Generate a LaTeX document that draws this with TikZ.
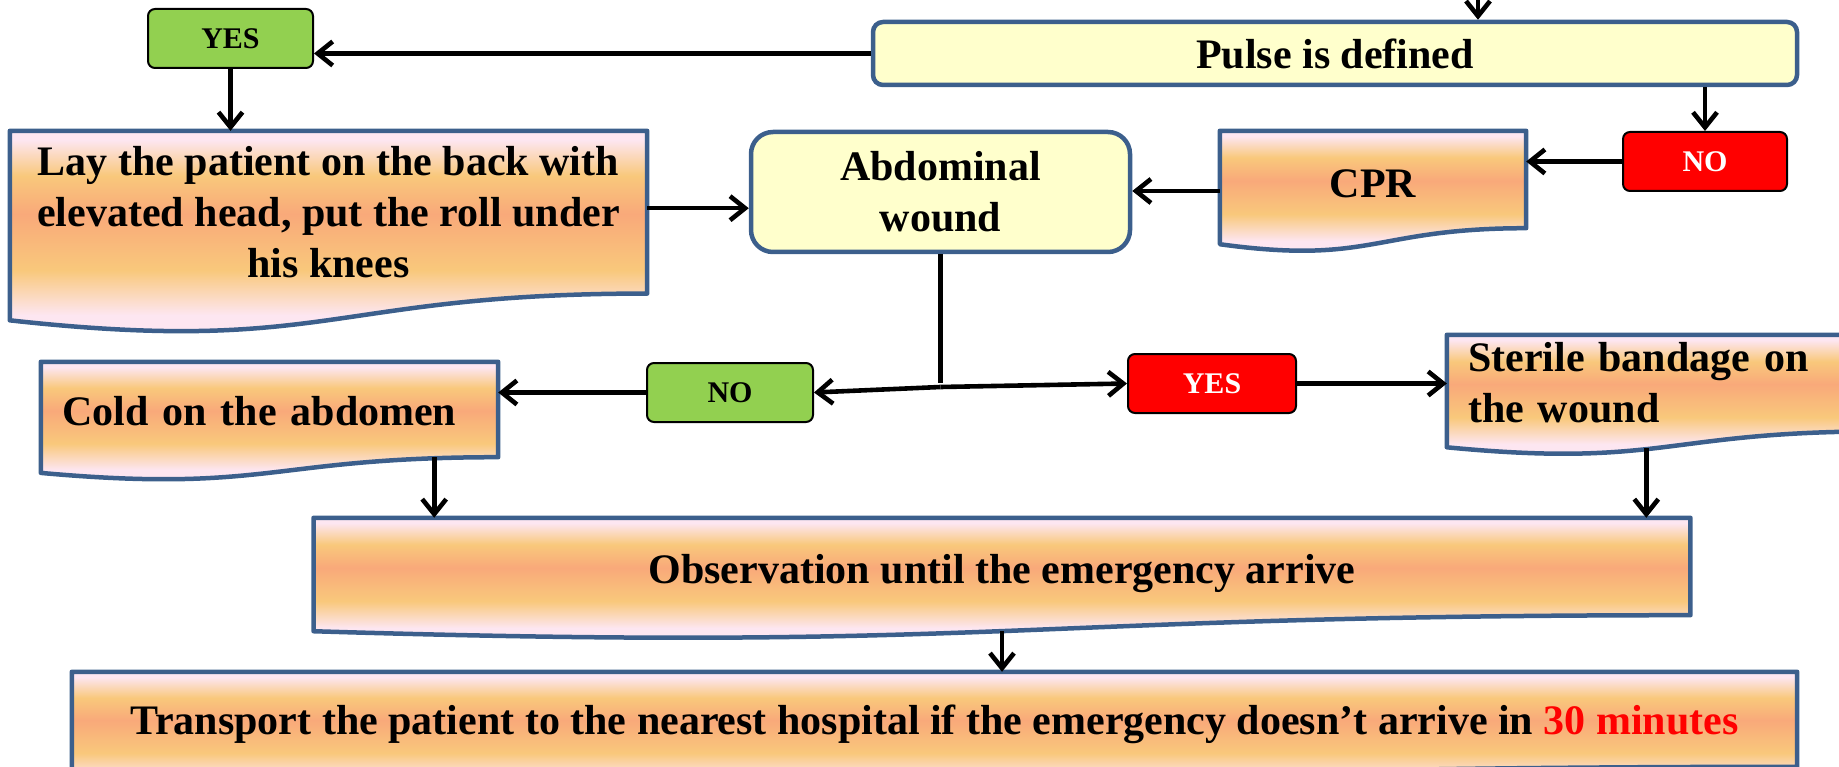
\documentclass[tikz,border=0pt]{standalone}
\usepackage{fontspec}
\setmainfont{Liberation Serif}
\usetikzlibrary{arrows.meta,calc,backgrounds}
\definecolor{bord}{HTML}{3C5F8C}
\definecolor{pyel}{HTML}{FFFFCC}
\definecolor{grn}{HTML}{92D050}
\definecolor{dpink}{HTML}{FDE6F1}
\definecolor{dyel}{HTML}{F9C87B}
\definecolor{dsal}{HTML}{F9A97A}
\pgfdeclareverticalshading{docgrad}{100bp}{color(0bp)=(dpink); color(25bp)=(dpink); color(34bp)=(dpink); color(44bp)=(dyel); color(56.5bp)=(dsal); color(65bp)=(dyel); color(73bp)=(dpink); color(100bp)=(dpink)}
\newcommand\docpath[1]{(#1.north west) -- (#1.north east) -- (#1.south east) .. controls (#1.south) and ($(#1.north)!1.381!(#1.south)$) .. ($(#1.north west)!1.1646!(#1.south west)$) -- cycle}
\newcommand\txtdown[2]{\raisebox{-#1}[\height][\depth]{#2}}
\begin{document}
\begin{tikzpicture}[x=1pt,y=-1pt,
  txt/.style={font={\fontsize{42}{51}\selectfont\bfseries}, align=center, inner sep=0pt},
  ybox/.style={txt, rectangle, rounded corners=10pt, draw=bord, fill=pyel, line width=4.5pt},
  doc/.style={txt, rectangle},
  tag/.style={font={\fontsize{30}{36}\selectfont\bfseries}, rectangle, rounded corners=7pt, draw=black, line width=2pt, inner sep=0pt, minimum height=59pt},
  docfill/.style={shading=docgrad, draw=bord, line width=4.5pt, line join=round},
  arr/.style={-{Straight Barb[length=15pt,width=24pt]}, line width=4.6pt},
  plain/.style={line width=4.6pt}]
\clip (0,0) rectangle (1839,767);
% rounded yellow boxes
\node[ybox, minimum width=924pt, minimum height=63pt] (Pulse) at (1335,53.5) {Pulse is defined};
\node[ybox, rounded corners=22pt, minimum width=379pt, minimum height=120pt] (Abd) at (940.5,192) {Abdominal\\wound};
% yes/no tags
\node[tag, fill=grn, minimum width=165pt] (Y1) at (230.5,38.5) {YES};
\node[tag, fill=red, text=white, minimum width=164pt] (N1) at (1705,161.5) {NO};
\node[tag, fill=grn, minimum width=166pt] (N2) at (730,392.5) {NO};
\node[tag, fill=red, text=white, minimum width=168pt] (Y2) at (1212,383.5) {YES};
% document boxes (text areas)
\node[doc, minimum width=637pt, minimum height=162.3pt] (Lay) at (328.5,212.2) {Lay the patient on the back with\\elevated head, put the roll under\\his knees};
\node[doc, minimum width=306pt, minimum height=97pt] (CPR) at (1373,179.5) {\txtdown{4pt}{CPR}};
\node[doc, text width=415pt, align=left, inner xsep=21pt, minimum height=95pt] (Cold) at (269.5,409.5) {\txtdown{2pt}{Cold on the abdomen}};
\node[doc, text width=391pt, align=left, inner xsep=21pt, minimum height=96.2pt] (Ster) at (1663.5,383.1) {Sterile bandage on\\the wound};
\node[doc, minimum width=1376.5pt, minimum height=97pt] (Obs) at (1002,566.5) {\txtdown{7pt}{Observation until the emergency arrive}};
\node[doc, minimum width=1725pt, minimum height=94.6pt] (Trans) at (934.5,719.3) {\txtdown{5pt}{Transport the patient to the nearest hospital if the emergency doesn’t arrive in \textcolor{red}{30 minutes}}};
\begin{scope}[on background layer]
  \clip (0,0) rectangle (1839,767);
  \shadedraw[docfill] \docpath{Lay};
  \shadedraw[docfill] \docpath{CPR};
  \shadedraw[docfill] \docpath{Cold};
  \shadedraw[docfill] \docpath{Ster};
  \shadedraw[docfill] \docpath{Obs};
  \shadedraw[docfill] \docpath{Trans};
\end{scope}
% connectors
\coordinate (top) at (1478,-10);
\draw[arr] (top) -- (top |- Pulse.north);
\draw[arr] (Pulse.west) -- (Pulse.west -| Y1.east);
\draw[arr] (Y1.south) -- (Y1.south |- Lay.north);
\draw[arr] ([yshift=4pt]Lay.east) -- ([yshift=4pt]Lay.east -| Abd.west);
\draw[arr] ([yshift=-11.5pt]CPR.west) -- ([yshift=-11.5pt]CPR.west -| Abd.east);
\draw[arr] (N1.north |- Pulse.south) -- (N1.north);
\draw[arr] (N1.west) -- (N1.west -| CPR.east);
\coordinate (jh) at (940.5,387);
\draw[plain] (Abd.south) -- ([yshift=4pt]jh);
\draw[arr] (jh) -- (N2.east);
\draw[arr] (jh) -- (Y2.west);
\draw[arr] (N2.west) -- (N2.west -| Cold.east);
\draw[arr] (Y2.east) -- (Y2.east -| Ster.west);
\coordinate (sb) at ($(Ster.south west)+(199.5,17)$);
\draw[arr] (sb) -- (sb |- Obs.north);
\coordinate (cb) at ([xshift=-64pt]Cold.south east);
\draw[arr] (cb) -- (cb |- Obs.north);
\coordinate (ob) at ($(Obs.north)!1.163!(Obs.south)$);
\draw[arr] (ob) -- (ob |- Trans.north);
\end{tikzpicture}
\end{document}
